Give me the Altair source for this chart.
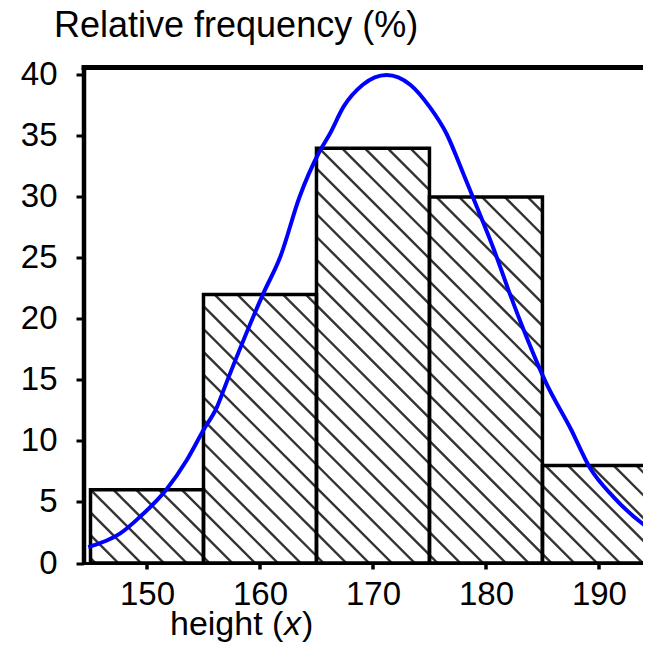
import altair as alt
import pandas as pd

# ---------------- data ----------------
bin_start = [145, 155, 165, 175, 185]
bin_end = [155, 165, 175, 185, 195]
rel_freq = [6, 22, 34, 30, 8]

curve_x = [144.8, 147.6, 149.4, 151.7, 153.5, 155.0, 156.2, 157.0, 160.3, 161.8,
           163.5, 165.2, 166.2, 167.4, 169.1, 171.2, 173.3, 175.0, 176.5, 178.0,
           179.1, 180.7, 182.1, 183.6, 185.3, 187.5, 189.2, 191.3, 194.5, 195.0]
curve_y = [1.3, 2.4, 3.8, 6.0, 8.4, 10.9, 12.8, 14.7, 22.1, 25.1,
           30.0, 33.6, 35.2, 37.4, 39.2, 40.0, 39.2, 37.4, 35.2, 31.9,
           29.4, 25.7, 22.1, 18.5, 14.8, 11.0, 7.8, 5.4, 2.8, 2.5]

x_ticks = [150, 160, 170, 180, 190]
y_ticks = [0, 5, 10, 15, 20, 25, 30, 35, 40]

title_text = ["Relative frequency (%)"]
xtitle_parts = ["height (", "x", ")"]

# ---------------- layout / style ----------------
FONT = "Liberation Sans"
W, H = 559.5, 495.5
X_DOMAIN = [144.38, 193.9]
Y_DOMAIN = [0, 40.61]
HATCH_SPACING = 22.8   # px
HATCH_PHASE = 12.0     # px

kx = W / (X_DOMAIN[1] - X_DOMAIN[0])
ky = H / (Y_DOMAIN[1] - Y_DOMAIN[0])

bars = pd.DataFrame({"x0": bin_start, "x1": bin_end, "f": rel_freq})
curve = pd.DataFrame({"x": curve_x, "y": curve_y})

# hatch segments (45 deg in pixel space, clipped to each bar)
segs = []
for x0, x1, h in zip(bin_start, bin_end, rel_freq):
    u0 = (x0 - X_DOMAIN[0]) * kx
    u1 = (x1 - X_DOMAIN[0]) * kx
    vh = h * ky
    k = 0
    while True:
        c = HATCH_PHASE + k * HATCH_SPACING
        k += 1
        if c > u1 + vh:
            break
        ua = max(u0, c - vh)
        ub = min(u1, c)
        if ub - ua > 0.5:
            segs.append({
                "xa": X_DOMAIN[0] + ua / kx, "ya": (c - ua) / ky,
                "xb": X_DOMAIN[0] + ub / kx, "yb": (c - ub) / ky,
            })
hatch = pd.DataFrame(segs)

xs = alt.Scale(domain=X_DOMAIN, nice=False, zero=False)
ys = alt.Scale(domain=Y_DOMAIN, nice=False, zero=True)

x_axis = alt.Axis(values=x_ticks, title=None, grid=False, tickSize=6, tickWidth=3.5,
                  tickColor="black", domainColor="black", domainWidth=3,
                  labelFontSize=33, labelFont=FONT, labelColor="black",
                  labelPadding=9, labelFlush=False, labelOverlap=False)
y_axis = alt.Axis(values=y_ticks, title=None, grid=False, tickSize=7.5, tickWidth=3,
                  tickColor="black", domainColor="black", domainWidth=4.5,
                  labelFontSize=33, labelFont=FONT, labelColor="black",
                  labelPadding=19, labelFlush=False, labelOverlap=False)

hatch_layer = alt.Chart(hatch).mark_rule(color="#333333", strokeWidth=2.4, clip=True).encode(
    x=alt.X("xa:Q", scale=xs, axis=x_axis),
    y=alt.Y("ya:Q", scale=ys, axis=y_axis),
    x2="xb:Q", y2="yb:Q",
)

bar_layer = alt.Chart(bars).mark_rect(fillOpacity=0, stroke="black", strokeWidth=3.5, clip=True).encode(
    x=alt.X("x0:Q", scale=xs, axis=x_axis),
    x2="x1:Q",
    y=alt.Y("f:Q", scale=ys, axis=y_axis),
    y2=alt.datum(0),
)

curve_layer = alt.Chart(curve).mark_line(color="#0000ff", strokeWidth=4, interpolate="monotone", clip=True).encode(
    x=alt.X("x:Q", scale=xs, axis=x_axis),
    y=alt.Y("y:Q", scale=ys, axis=y_axis),
)

top_rule = alt.Chart(pd.DataFrame({"a": [0]})).mark_rule(color="black", strokeWidth=5).encode(
    x=alt.value(-2), x2=alt.value(W), y=alt.value(0),
)

title_layer = alt.Chart(pd.DataFrame({"t": title_text})).mark_text(
    font=FONT, fontSize=36, align="left", baseline="alphabetic", color="black"
).encode(x=alt.value(-29.5), y=alt.value(-31), text="t:N")

xt_layers = []
for part, px, st in zip(xtitle_parts, [86.5, 200.5, 218.5], ["normal", "italic", "normal"]):
    xt_layers.append(
        alt.Chart(pd.DataFrame({"t": [part]})).mark_text(
            font=FONT, fontSize=34, align="left", baseline="alphabetic", color="black",
            fontStyle=st
        ).encode(x=alt.value(px), y=alt.value(567.5), text="t:N")
    )

chart = alt.layer(hatch_layer, bar_layer, curve_layer, top_rule, title_layer, *xt_layers).properties(
    width=W, height=H,
    padding={"left": 75.5, "top": 59.5, "right": 0, "bottom": 81},
    autosize=alt.AutoSizeParams(type="none"),
).configure_view(stroke=None).configure(background="white")

chart.save("out.html", embed_options={"renderer": "svg", "actions": False})
